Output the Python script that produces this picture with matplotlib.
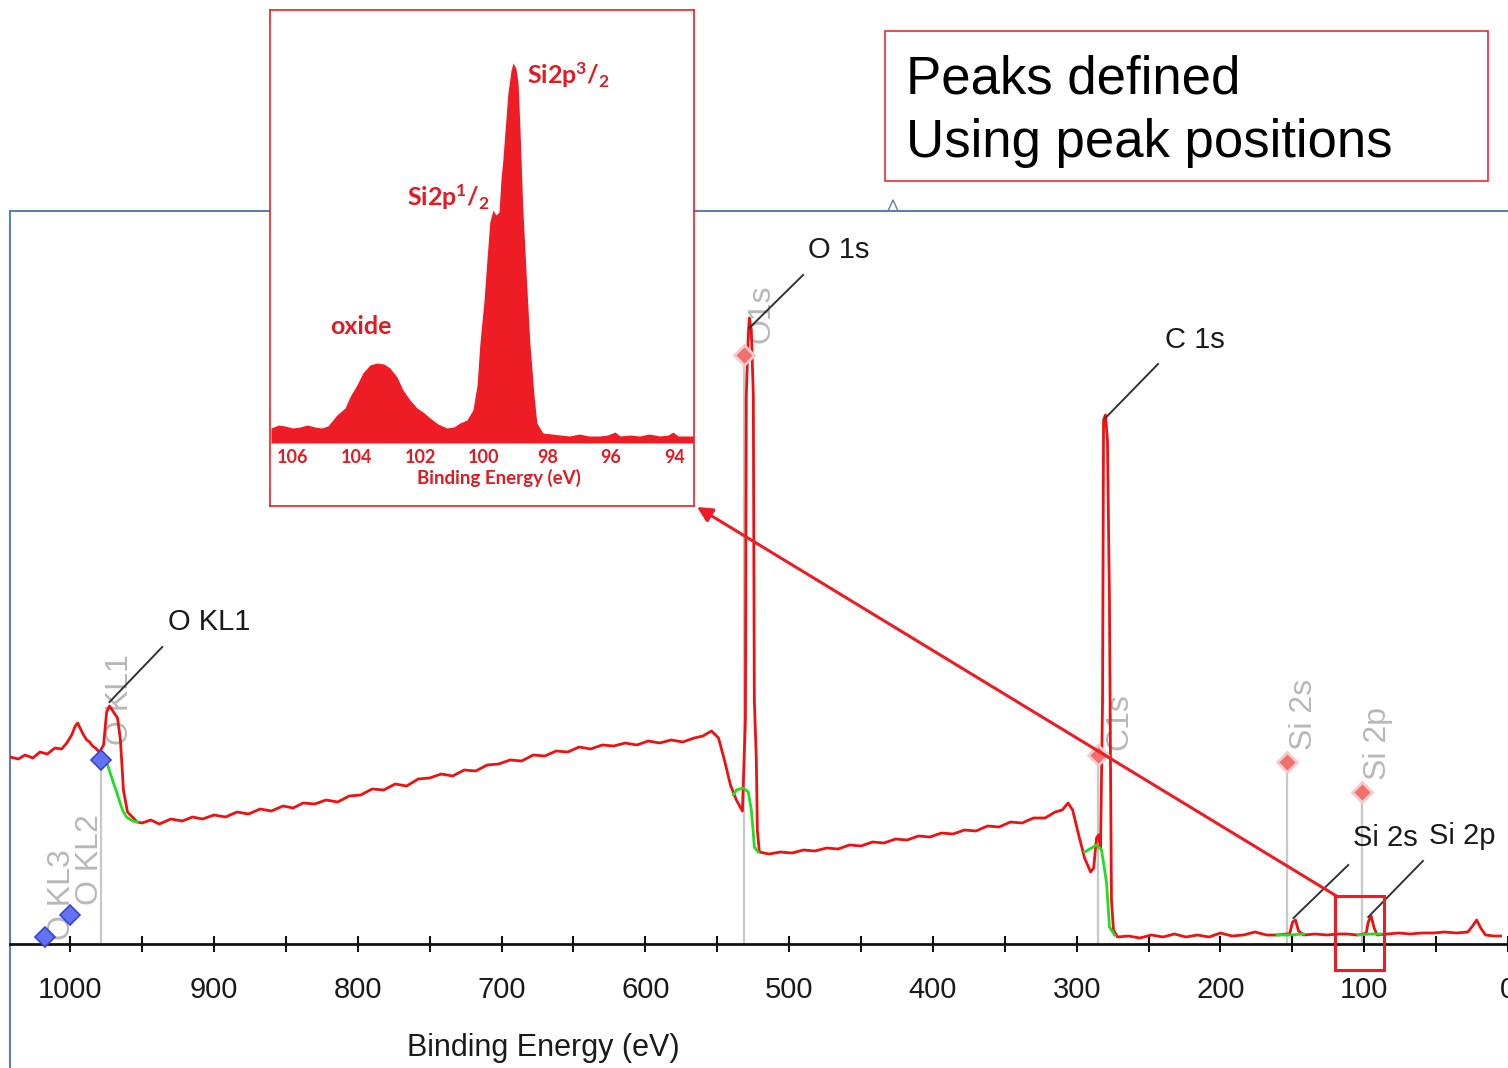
import matplotlib.pyplot as plt
from matplotlib.lines import Line2D
from matplotlib.patches import Rectangle

plt.rcParams["font.family"] = ["Liberation Sans", "DejaVu Sans"]
plt.rcParams["mathtext.fontset"] = "custom"
plt.rcParams["mathtext.rm"] = "Lato:bold"
plt.rcParams["mathtext.it"] = "Lato:bold"
plt.rcParams["mathtext.bf"] = "Lato:bold"

# survey spectrum: binding energy (eV) and intensity (a.u.)
survey_be = [
    1041.9, 1036, 1031.5, 1026, 1021.1, 1016, 1010.7, 1006, 1002.4, 999.0,
    996.5, 994.8, 992.5, 990.7, 988.5, 986.5, 984.5, 982.4, 980.5, 979.6,
    976.8, 974.7, 972.7, 969.9, 967.1, 965.1, 963.0, 960.2, 956.1, 953.5,
    950, 944, 938, 930, 922, 915, 908, 900, 892, 884, 876, 868, 860, 852,
    845, 838, 830, 822, 814, 806, 798, 790, 782, 774, 766, 758, 750, 742,
    734, 726, 718, 710, 702, 694, 686, 678, 670, 662, 654, 646, 638, 630,
    622, 614, 606, 598, 590, 582, 574, 566, 560, 554,
    549.1, 545.0, 540.8, 536.7, 532.5, 530.4, 529.8, 528.4, 527.7, 526.3,
    524.9, 524.2, 522.8, 522.1, 520.7,
    514, 506, 498, 490, 482, 474, 466, 458, 450, 442, 434, 426, 418, 410,
    402, 394, 386, 378, 370, 362, 354, 346, 338, 330, 322, 315, 310, 306,
    302.8, 298.6, 294.5, 290.3, 288.2, 286.2, 284.8, 283.4, 282.0, 281.3,
    280.0, 278.6, 277.2, 276.5, 275.8, 274.4, 271.6,
    264, 256, 248, 240, 232, 224, 216, 208, 200, 192, 184, 176, 168, 160,
    154, 151.9, 149.8, 147.8, 145.7, 142.2, 134, 126, 118, 111.8, 105,
    100.5, 98.6, 97.2, 95.2, 93.1, 91.0, 84, 76, 68, 60, 52, 44, 36, 28.0,
    24.6, 21.8, 19.0, 15.6, 10, 5.2,
]
survey_int = [
    18.7, 18.5, 18.9, 18.6, 19.2, 19.0, 19.6, 19.5, 20.1, 20.9,
    21.8, 22.1, 21.4, 20.9, 20.4, 20.2, 19.8, 19.6, 19.3, 19.2,
    19.9, 23.2, 23.8, 23.2, 22.6, 20.4, 15.4, 13.2, 12.6, 12.2,
    12.1, 12.4, 12.0, 12.5, 12.3, 12.7, 12.5, 12.9, 12.7, 13.2, 13.0, 13.5, 13.3, 13.8,
    13.6, 14.1, 14.0, 14.4, 14.2, 14.8, 14.9, 15.5, 15.4, 16.0, 15.8, 16.5, 16.6, 17.0,
    16.8, 17.4, 17.3, 17.9, 18.0, 18.4, 18.3, 18.9, 18.8, 19.3, 19.2, 19.7, 19.5, 19.9,
    19.8, 20.1, 19.9, 20.3, 20.1, 20.4, 20.2, 20.6, 20.8, 21.3,
    20.6, 18.4, 15.9, 14.4, 13.3, 22.4, 54.9, 60.9, 62.6, 61.4,
    54.9, 24.4, 18.4, 11.4, 9.2,
    9.0, 9.2, 9.1, 9.4, 9.3, 9.6, 9.5, 9.9, 9.8, 10.2, 10.1, 10.5, 10.4, 10.8,
    10.7, 11.1, 11.0, 11.4, 11.3, 11.8, 11.7, 12.2, 12.1, 12.6, 12.6, 13.2, 13.4, 14.1,
    13.4, 10.9, 8.6, 7.2, 7.6, 10.6, 10.9, 9.6, 24.4, 52.4,
    52.9, 50.4, 34.4, 18.4, 4.4, 1.4, 0.7,
    0.8, 0.6, 0.9, 0.7, 1.0, 0.7, 0.9, 0.7, 1.1, 0.8, 0.9, 1.2, 0.9, 0.9,
    1.0, 1.0, 2.2, 2.4, 1.3, 0.9, 1.0, 0.9, 1.0, 1.0, 0.9,
    1.0, 1.1, 2.2, 2.8, 1.6, 0.9, 1.0, 1.1, 1.0, 1.1, 1.1, 1.2, 1.1, 1.2,
    1.8, 2.4, 1.6, 0.9, 0.8, 0.8,
]

# fitted backgrounds under each peak
bg_okl_be = [978.9, 974.0, 970.6, 967.1, 963.7, 960.9, 956.7, 953.3]
bg_okl_int = [18.6, 17.9, 16.4, 14.9, 13.4, 12.7, 12.3, 12.2]
bg_o1s_be = [538.8, 536.7, 531.9, 528.4, 526.3, 524.9, 524.2, 521.5]
bg_o1s_int = [14.9, 15.4, 15.6, 15.2, 13.4, 11.1, 9.7, 9.2]
bg_c1s_be = [294.5, 286.2, 282.7, 279.2, 277.2, 273.7]
bg_c1s_int = [9.2, 9.9, 9.4, 6.1, 1.7, 0.9]
bg_si2s_be = [160.6, 151.6, 142.2]
bg_si2s_int = [0.9, 0.9, 1.0]
bg_si2p_be = [104.2, 96.0, 88.3]
bg_si2p_int = [0.9, 1.0, 1.0]

# peak position markers
peak_names = ["O1s", "C1s", "Si 2s", "Si 2p"]
peak_be = [531.1, 285.5, 154.0, 101.4]
peak_int = [58.9, 18.9, 18.2, 15.2]
auger_names = ["O KL1", "O KL2", "O KL3"]
auger_be = [978.9, 1000.3, 1017.6]
auger_int = [18.4, 2.9, 0.7]

# Si 2p high resolution inset
si_be = [
    106.69, 106.45, 106.25, 106.0, 105.78, 105.55, 105.31, 105.1, 104.90,
    104.62, 104.36, 104.21, 103.99,
    103.80, 103.58, 103.36, 103.14, 102.95, 102.73, 102.54, 102.32, 102.10,
    101.91, 101.69, 101.44, 101.16, 100.94, 100.75, 100.53, 100.34, 100.21,
    100.12, 99.99, 99.90, 99.81, 99.71, 99.62, 99.52, 99.46, 99.40, 99.30,
    99.24, 99.14, 99.08, 98.99, 98.92, 98.86, 98.77, 98.64, 98.55, 98.42,
    98.33, 98.14, 97.85, 97.60, 97.3, 97.0, 96.7, 96.35, 96.1, 95.87, 95.72,
    95.4, 95.1, 94.8, 94.46, 94.2, 94.05, 93.89, 93.42,
]
si_int = [
    1.5, 1.8, 1.7, 1.5, 1.6, 1.8, 1.6, 1.5, 1.7,
    2.8, 3.5, 4.6, 5.8,
    7.0, 7.8, 8.0, 7.9, 7.5, 6.6, 5.3, 4.3, 3.5,
    3.1, 2.5, 1.9, 1.5, 1.6, 2.0, 2.3, 3.3, 5.8,
    10.0, 14.3, 18.3, 22.1, 23.3, 22.8, 23.1, 26.3, 28.3, 32.5,
    35.0, 37.3, 38.0, 37.5, 36.0, 31.3, 23.3, 15.3, 10.0, 4.8,
    2.0, 1.0, 0.9, 0.8, 0.7, 0.9, 0.7, 0.7, 0.8, 1.1, 0.7,
    0.8, 0.7, 0.9, 0.7, 0.8, 1.1, 0.7, 0.7,
]
si_ticks = [106, 104, 102, 100, 98, 96, 94]

RED = "#ee1111"
BOX_RED = "#ee1c25"
GREEN = "#22dd22"
FRAME = "#5b7fb3"
W, H = 1508, 1068


def px(x, y):
    # pixel position -> figure fraction
    return x / W, 1 - y / H


fig = plt.figure(figsize=(15.08, 10.68), dpi=100)

# ---- main survey panel ----
ax = fig.add_axes([10 / W, 0, 1498 / W, 857 / H])
ax.set_xlim(1041.9, 5.2)
ax.set_ylim(-12.4, 73.3)
ax.spines["right"].set_visible(False)
for side in ("top", "left"):
    ax.spines[side].set_color(FRAME)
    ax.spines[side].set_linewidth(1.5)
ax.spines["bottom"].set_position(("data", 0))
ax.spines["bottom"].set_color("#111111")
ax.spines["bottom"].set_linewidth(2)
ax.set_yticks([])
ax.set_xticks(range(0, 1001, 100))
ax.set_xticks(range(50, 1001, 100), minor=True)
ax.tick_params(which="both", axis="x", direction="inout", length=12, width=1.5,
               color="#111111")
ax.tick_params(axis="x", labelsize=21, pad=17, labelcolor="#1a1a1a")

ax.vlines(peak_be, 0, peak_int, color="#c8c8c8", lw=1.6, zorder=1)
ax.vlines(auger_be[:1], 0, auger_int[:1], color="#c8c8c8", lw=1.6, zorder=1)

ax.plot(survey_be, survey_int, color=RED, lw=2, zorder=3)
for be, inten in ((bg_okl_be, bg_okl_int), (bg_o1s_be, bg_o1s_int),
                  (bg_c1s_be, bg_c1s_int), (bg_si2s_be, bg_si2s_int),
                  (bg_si2p_be, bg_si2p_int)):
    ax.plot(be, inten, color=GREEN, lw=2, zorder=4)

ax.plot(peak_be, peak_int, ls="none", marker="D", ms=10, mfc="#f07070",
        mec="#f6caca", mew=2, zorder=5)
ax.plot(auger_be, auger_int, ls="none", marker="D", ms=10, mfc="#6272f2",
        mec="#3545d0", mew=1.2, zorder=5)

# grey rotated marker names
gray_pos = {"O KL1": (965.7, 19.9), "O KL2": (986.5, 3.9), "O KL3": (1005.9, 0.4),
            "O1s": (519.4, 60.1), "C1s": (270.3, 19.4), "Si 2s": (142.2, 19.4),
            "Si 2p": (90.3, 16.4)}
for name, (x, y) in gray_pos.items():
    ax.text(x, y, name, rotation=90, ha="center", va="bottom", fontsize=23,
            color="#b8b8b8", zorder=2)

# black labels with leader lines
leaders = [
    ("O KL1", (931.8, 32.2), (936.0, 29.7), (972.7, 24.2)),
    ("O 1s", (486.9, 69.4), (490.3, 66.9), (527.7, 61.6)),
    ("C 1s", (238.5, 60.4), (243.4, 58.0), (280.0, 52.6)),
    ("Si 2s", (107.6, 10.6), (111.1, 7.9), (149.2, 2.6)),
    ("Si 2p", (55.0, 10.8), (59.2, 8.3), (97.2, 2.7)),
]
for name, txt, p0, p1 in leaders:
    ax.plot([p0[0], p1[0]], [p0[1], p1[1]], color="#333333", lw=1.4, zorder=6)
    ax.text(*txt, name, ha="left", va="center", fontsize=21, color="#1a1a1a",
            zorder=6)

ax.add_patch(Rectangle((86.0, -2.6), 34.6, 7.4, fill=False, ec=BOX_RED, lw=2.2,
                       zorder=7, clip_on=False))
ax.annotate("", xy=px(697, 507), xycoords="figure fraction", xytext=(119.3, 4.8),
            textcoords="data", annotation_clip=False, zorder=7,
            arrowprops=dict(arrowstyle="-|>,head_length=0.9,head_width=0.45",
                            color=BOX_RED, lw=2.2, shrinkA=0, shrinkB=0))
ax.text(*px(543, 1048), "Binding Energy (eV)", transform=fig.transFigure,
        ha="center", va="center", fontsize=22, color="#1a1a1a")

# ---- Si 2p inset ----
box = fig.add_axes([270 / W, 1 - 506 / H, 424 / W, 496 / H], zorder=10)
box.set_xticks([])
box.set_yticks([])
for sp in box.spines.values():
    sp.set_color(BOX_RED)
    sp.set_linewidth(1.2)

ax_in = fig.add_axes([271 / W, 1 - 443 / H, 422 / W, 433 / H], zorder=11)
ax_in.patch.set_visible(False)
for sp in ax_in.spines.values():
    sp.set_visible(False)
ax_in.set_xlim(106.69, 93.42)
ax_in.set_ylim(0, 43.3)
ax_in.fill_between(si_be, 0, si_int, color="#ee1c24", lw=0)
ax_in.set_yticks([])
ax_in.set_xticks(si_ticks, [str(t) for t in si_ticks], fontfamily="Lato",
                 fontweight="bold", fontsize=13, color="#e01b22")
ax_in.tick_params(axis="x", length=0, pad=4)
in_font = dict(fontfamily="Lato", fontweight="bold", color="#e01b22")
ax_in.text(98.64, 36.8, "Si2p$^3$/$_2$", ha="left", va="center", fontsize=18,
           **in_font)
ax_in.text(102.42, 24.6, "Si2p$^1$/$_2$", ha="left", va="center", fontsize=18,
           **in_font)
ax_in.text(104.84, 11.7, "oxide", ha="left", va="center", fontsize=18, **in_font)
fig.text(*px(499, 478), "Binding Energy (eV)", ha="center", va="center",
         fontsize=13.5, zorder=12, **in_font)

# ---- note box ----
fig.add_artist(Rectangle(px(885, 181), 603 / W, 150 / H, transform=fig.transFigure,
                         fill=False, ec="#ee2a33", lw=1.2))
fig.text(*px(906, 94), "Peaks defined", fontsize=38, va="baseline", ha="left")
fig.text(*px(906, 157), "Using peak positions", fontsize=38, va="baseline",
         ha="left")
fig.add_artist(Line2D([888 / W, 893 / W, 898 / W], [1 - 211 / H, 1 - 200 / H, 1 - 211 / H],
                      color=FRAME, lw=1))

fig.savefig("out.png", dpi=100)
